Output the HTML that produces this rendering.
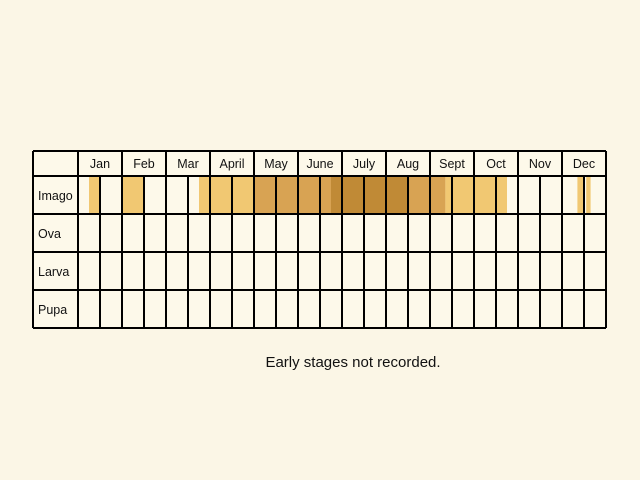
<!DOCTYPE html>
<html><head><meta charset="utf-8"><style>
body{margin:0;background:#fbf6e6;}
svg{display:block;font-family:"Liberation Sans",sans-serif;}
</style></head><body>
<svg id="c" width="640" height="480" viewBox="0 0 640 480"></svg>
<script>
const months=["Jan","Feb","Mar","April","May","June","July","Aug","Sept","Oct","Nov","Dec"];
const stages=["Imago","Ova","Larva","Pupa"];
const segStart=[0.25,1.0,2.75,4.0,5.75,7.5,8.35,11.35,11.55];
const segEnd=[0.5,1.5,4.0,5.75,7.5,8.35,9.75,11.48,11.65];
const segLevel=[1,1,1,2,3,2,1,1,1];
const footer="Early stages not recorded.";
const colors=["#fdf9ea","#f1c872","#d8a353","#c08a36"];
const NS="http://www.w3.org/2000/svg";
const svg=document.getElementById('c');
const X0=33,XL=78,MW=44,HY=151,HH=25,RH=38;
const x=m=>XL+m*MW;
const rowY=i=>HY+HH+i*RH;
function mk(t,a){const e=document.createElementNS(NS,t);for(const k in a)e.setAttribute(k,a[k]);svg.appendChild(e);return e;}
const bg=mk('rect',{x:X0,y:HY,width:x(12)-X0,height:HH+RH*stages.length,fill:colors[0]});


segStart.forEach((s,i)=>{
 const r=mk('rect',{x:x(s),y:rowY(0),width:x(segEnd[i])-x(s),height:RH,fill:colors[segLevel[i]]});
 
 
});
const yEnd=rowY(stages.length);
for(let i=0;i<=stages.length+1;i++){
 const y=i==0?HY:rowY(i-1);
 const l=mk('line',{x1:X0,x2:x(12),y1:y,y2:y,stroke:'#000','stroke-width':2});
 
 
}
[X0,XL].forEach(v=>{const l=mk('line',{x1:v,x2:v,y1:HY,y2:yEnd,stroke:'#000','stroke-width':2});
 
 });
for(let m=0;m<12;m++){
 const l=mk('line',{x1:x(m+1),x2:x(m+1),y1:HY,y2:yEnd,stroke:'#000','stroke-width':2});
 
 
 const h=mk('line',{x1:x(m+0.5),x2:x(m+0.5),y1:rowY(0),y2:yEnd,stroke:'#000','stroke-width':2});
 
 
 const t=mk('text',{x:x(m+0.5),y:HY+17,'text-anchor':'middle','font-size':12.5,fill:'#111'});
 t.textContent=months[m];
 
 
}
stages.forEach((s,i)=>{
 const t=mk('text',{x:38,y:rowY(i)+RH/2+5,'font-size':12.5,fill:'#111'});
 t.textContent=s;
 
 
});
const f=mk('text',{x:353,y:367,'text-anchor':'middle','font-size':15,fill:'#111'});
f.textContent=footer;


</script>
</body></html>
